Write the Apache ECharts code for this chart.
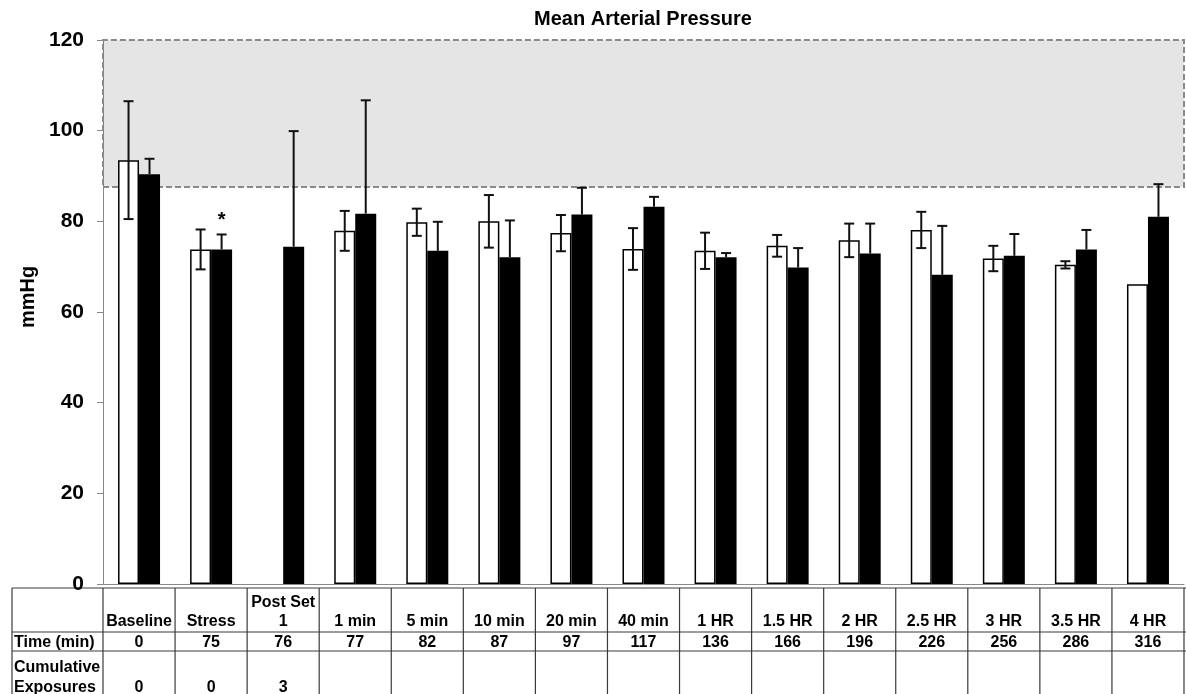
<!DOCTYPE html>
<html>
<head>
<meta charset="utf-8">
<script src="https://cdn.jsdelivr.net/npm/echarts@6/dist/echarts.min.js"></script>
<style>
  html, body { margin: 0; padding: 0; background: #ffffff; }
  #chart { width: 1186px; height: 694px; }
</style>
</head>
<body>
<div id="chart"></div>
<script>
// Time points (table header) and the rows listed beneath them
const categories = ['Baseline', 'Stress', 'Post Set\n1', '1 min', '5 min', '10 min', '20 min', '40 min',
  '1 HR', '1.5 HR', '2 HR', '2.5 HR', '3 HR', '3.5 HR', '4 HR'];
const timeMin = ['0', '75', '76', '77', '82', '87', '97', '117', '136', '166', '196', '226', '256', '286', '316'];
const exposures = ['0', '0', '3', '', '', '', '', '', '', '', '', '', '', '', ''];

// Mean arterial pressure (mmHg): open bars and filled bars, each with its SD
const openMean = [93.5, 73.8, null, 77.9, 79.8, 80.0, 77.4, 73.9, 73.5, 74.6, 75.8, 78.1, 71.8, 70.4, 66.1];
const openSD = [13.0, 4.4, null, 4.4, 3.0, 5.8, 4.0, 4.6, 4.0, 2.4, 3.7, 4.0, 2.8, 0.8, null];
const filledMean = [90.4, 73.8, 74.4, 81.7, 73.5, 72.1, 81.5, 83.2, 72.1, 69.8, 72.9, 68.2, 72.4, 73.8, 81.0];
const filledSD = [3.4, 3.3, 25.5, 25.0, 6.4, 8.1, 5.9, 2.2, 0.9, 4.3, 6.6, 10.8, 4.8, 4.3, 7.2];
const filledMarks = ['', '*', '', '', '', '', '', '', '', '', '', '', '', '', ''];

// Value axis and the shaded reference band
const yMin = 0, yMax = 120, yStep = 20;
const normalBand = [87.6, 120];

const FONT = '"Liberation Sans", Arial, Helvetica, sans-serif';
const BAR_W = 21;

const chart = echarts.init(document.getElementById('chart'), null, { renderer: 'canvas' });

function errorData(means, sds) {
  const out = [];
  means.forEach((m, i) => {
    if (m != null && sds[i] != null) out.push([i, m, sds[i]]);
  });
  return out;
}

// Whiskers: both directions on open bars, upward only on filled bars
function errorRenderer(offset, upOnly, marks) {
  return function (params, api) {
    const i = api.value(0), m = api.value(1), sd = api.value(2);
    const c = api.coord([i, m]);
    const x = c[0] + offset;
    const top = api.coord([i, m + sd])[1];
    const bot = upOnly ? c[1] : api.coord([i, m - sd])[1];
    const st = { stroke: '#111', lineWidth: 2 };
    const children = [
      { type: 'line', shape: { x1: x, y1: top, x2: x, y2: bot }, style: st },
      { type: 'line', shape: { x1: x - 5, y1: top, x2: x + 5, y2: top }, style: st }
    ];
    if (!upOnly) {
      children.push({ type: 'line', shape: { x1: x - 5, y1: bot, x2: x + 5, y2: bot }, style: st });
    }
    if (marks && marks[i]) {
      children.push({
        type: 'text',
        style: { text: marks[i], x: x, y: top - 4, align: 'center', verticalAlign: 'bottom',
          fill: '#000', font: 'bold 20px ' + FONT }
      });
    }
    return { type: 'group', children: children };
  };
}

chart.setOption({
  animation: false,
  backgroundColor: '#ffffff',
  title: {
    text: 'Mean Arterial Pressure',
    left: 643, top: 9, padding: 0, textAlign: 'center',
    textStyle: { fontFamily: FONT, fontSize: 20, fontWeight: 'bold', color: '#000' }
  },
  grid: { left: 103, right: 2, top: 40, bottom: 110, containLabel: false },
  xAxis: {
    type: 'category',
    data: categories,
    axisLine: { show: true, lineStyle: { color: '#888', width: 1 } },
    axisTick: { show: false },
    axisLabel: { show: false },
    splitLine: { show: false }
  },
  yAxis: {
    type: 'value',
    min: yMin, max: yMax, interval: yStep,
    name: 'mmHg',
    nameLocation: 'middle',
    nameRotate: 90,
    nameGap: 62,
    nameTextStyle: { fontFamily: FONT, fontSize: 20, fontWeight: 'bold', color: '#000', padding: [0, 0, 0, 30] },
    axisLine: { show: true, lineStyle: { color: '#888', width: 1 } },
    axisTick: { show: true, inside: false, length: 6, lineStyle: { color: '#888' } },
    axisLabel: { fontFamily: FONT, fontSize: 21, fontWeight: 'bold', color: '#000', margin: 19 },
    splitLine: { show: false }
  },
  series: [
    {
      name: 'open',
      type: 'bar',
      data: openMean,
      barWidth: BAR_W,
      barGap: '0%',
      itemStyle: { color: '#ffffff', borderColor: '#000', borderWidth: 1.5 },
      z: 2
    },
    {
      name: 'filled',
      type: 'bar',
      data: filledMean,
      barWidth: BAR_W,
      barGap: '0%',
      itemStyle: { color: '#000000' },
      z: 2
    },
    {
      name: 'open SD',
      type: 'custom',
      data: errorData(openMean, openSD),
      encode: { x: 0, y: 1 },
      renderItem: errorRenderer(-BAR_W / 2, false, null),
      z: 3
    },
    {
      name: 'filled SD',
      type: 'custom',
      data: errorData(filledMean, filledSD),
      encode: { x: 0, y: 1 },
      renderItem: errorRenderer(BAR_W / 2, true, filledMarks),
      z: 3
    },
    {
      name: 'band',
      type: 'line',
      data: categories.map(() => null),
      symbol: 'none',
      silent: true,
      z: 4,
      markArea: {
        silent: true,
        itemStyle: {
          color: 'rgba(0,0,0,0.1)',
          borderColor: '#8a8a8a',
          borderWidth: 2,
          borderType: [6, 3]
        },
        data: [[{ yAxis: normalBand[0] }, { yAxis: normalBand[1] }]]
      }
    }
  ]
});

// Data table beneath the plot, aligned to the category columns
(function drawTable() {
  const W = chart.getWidth(), H = chart.getHeight();
  const c0 = chart.convertToPixel({ xAxisIndex: 0 }, 0);
  const c1 = chart.convertToPixel({ xAxisIndex: 0 }, 1);
  const half = (c1 - c0) / 2;
  const baseY = chart.convertToPixel({ yAxisIndex: 0 }, 0);
  const tTop = baseY + 4;
  const r1 = tTop + 44;
  const r2 = r1 + 19;
  const tLeft = 12;
  const lineStyle = { stroke: '#3a3a3a', lineWidth: 1.2 };
  const textFont = 'bold 16px ' + FONT;
  const els = [];

  [tTop, r1, r2].forEach(y => {
    els.push({ type: 'line', shape: { x1: tLeft, y1: y, x2: W, y2: y }, style: lineStyle, silent: true });
  });
  els.push({ type: 'line', shape: { x1: tLeft, y1: tTop, x2: tLeft, y2: H }, style: lineStyle, silent: true });
  for (let i = 0; i <= categories.length; i++) {
    const x = c0 - half + i * 2 * half;
    els.push({ type: 'line', shape: { x1: x, y1: tTop, x2: x, y2: H }, style: lineStyle, silent: true });
  }

  categories.forEach((cat, i) => {
    const cx = chart.convertToPixel({ xAxisIndex: 0 }, i);
    els.push({ type: 'text', silent: true,
      style: { text: cat, x: cx, y: r1 - 1, align: 'center', verticalAlign: 'bottom',
        font: textFont, fill: '#000', lineHeight: 19 } });
    els.push({ type: 'text', silent: true,
      style: { text: timeMin[i], x: cx, y: (r1 + r2) / 2 + 1, align: 'center', verticalAlign: 'middle',
        font: textFont, fill: '#000' } });
    if (exposures[i] !== '') {
      els.push({ type: 'text', silent: true,
        style: { text: exposures[i], x: cx, y: r2 + 37, align: 'center', verticalAlign: 'middle',
          font: textFont, fill: '#000' } });
    }
  });

  els.push({ type: 'text', silent: true,
    style: { text: 'Time (min)', x: tLeft + 2, y: (r1 + r2) / 2 + 1, align: 'left', verticalAlign: 'middle',
      font: textFont, fill: '#000' } });
  els.push({ type: 'text', silent: true,
    style: { text: 'Cumulative\nExposures', x: tLeft + 2, y: r2 + 27, align: 'left', verticalAlign: 'middle',
      font: textFont, fill: '#000', lineHeight: 20 } });

  chart.setOption({ graphic: els });
})();
</script>
</body>
</html>
